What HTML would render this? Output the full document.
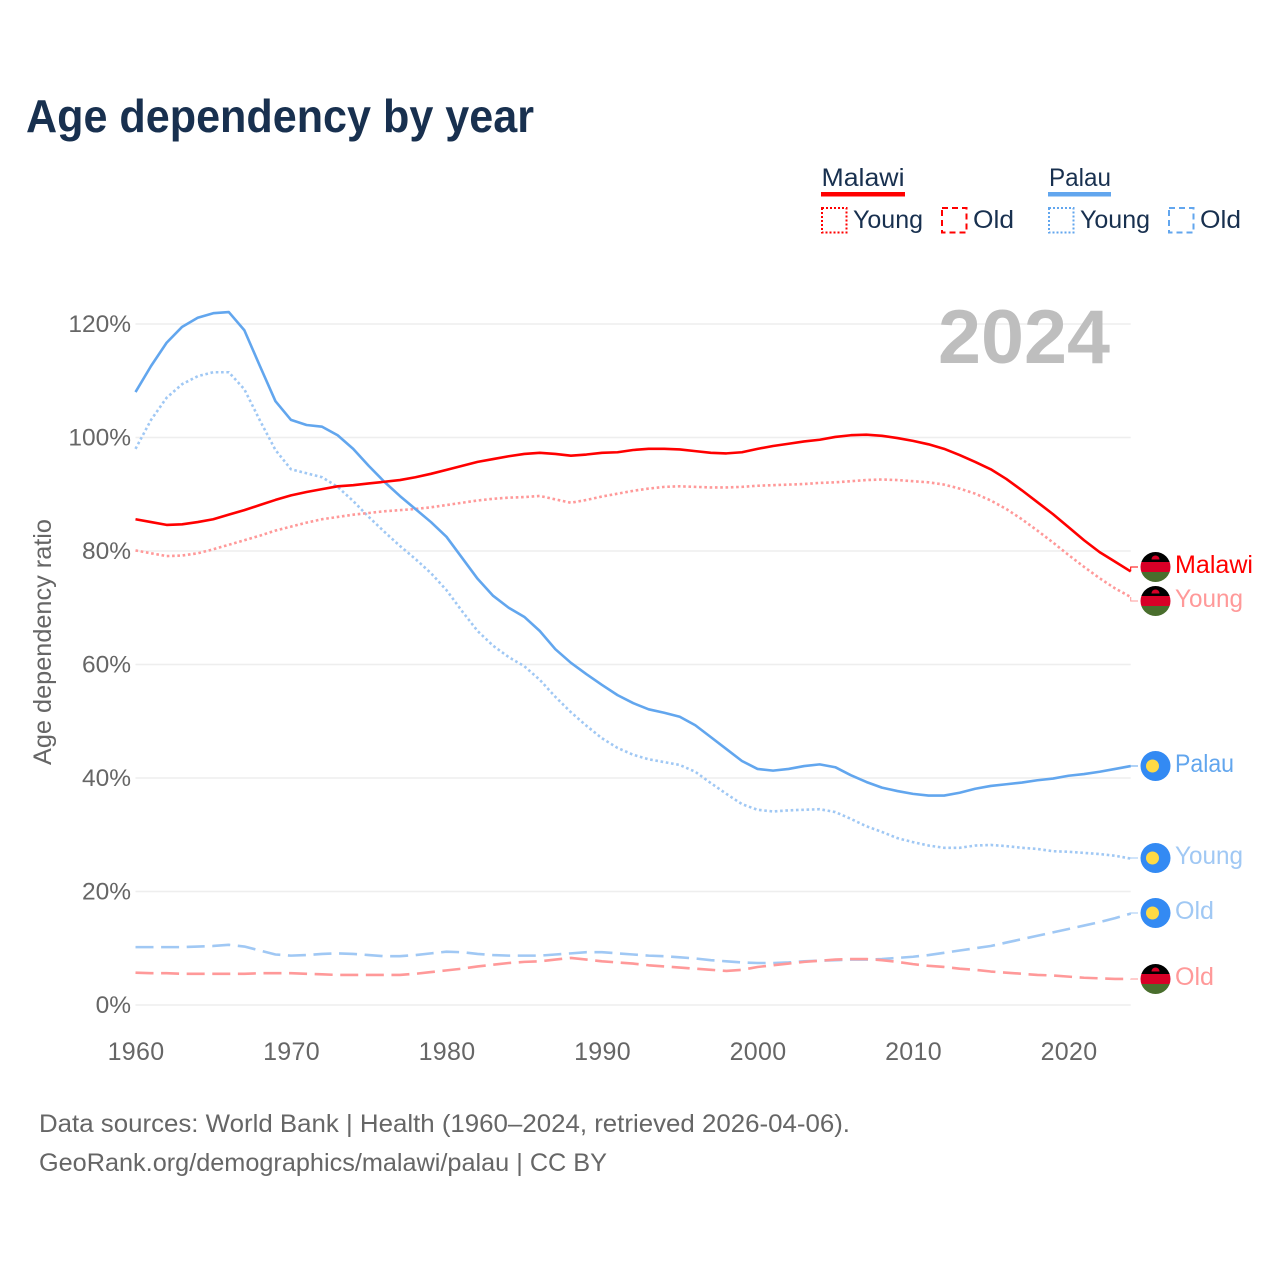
<!DOCTYPE html>
<html lang="en">
<head>
<meta charset="utf-8">
<title>Age dependency by year</title>
<style>
html,body{margin:0;padding:0;background:#fff;}
svg{display:block;font-family:"Liberation Sans",sans-serif;}
</style>
</head>
<body>
<svg id="chart" xmlns="http://www.w3.org/2000/svg" width="1280" height="1280" viewBox="0 0 1280 1280">
  <defs>
    <clipPath id="flag-clip"><circle cx="0" cy="0" r="15"></circle></clipPath>
    <g id="flag-malawi">
      <g clip-path="url(#flag-clip)">
        <rect x="-15" y="-15" width="30" height="10" fill="#000000"></rect>
        <rect x="-15" y="-5" width="30" height="10" fill="#d80027"></rect>
        <rect x="-15" y="5" width="30" height="10" fill="#496e2d"></rect>
        <path d="M-4-7.5 A4 4 0 0 1 4-7.5 Z" fill="#d80027"></path>
      </g>
    </g>
    <g id="flag-palau">
      <circle cx="0" cy="0" r="15" fill="#338af3"></circle>
      <circle cx="-3" cy="0" r="6.5" fill="#ffda44"></circle>
    </g>
  </defs>

  <text x="26" y="132" font-size="46" font-weight="700" fill="#18304f" textLength="508" lengthAdjust="spacingAndGlyphs">Age dependency by year</text>

  <g font-size="25" fill="#18304f">
    <g>
      <text x="821.5" y="186" textLength="83" lengthAdjust="spacingAndGlyphs">Malawi</text>
      <rect x="821" y="192" width="84" height="4.5" fill="#ff0000"></rect>
      <rect x="822" y="208" width="24.5" height="24.5" fill="none" stroke="#ff0000" stroke-width="2" stroke-dasharray="2,2"></rect>
      <text x="853" y="228" textLength="70" lengthAdjust="spacingAndGlyphs">Young</text>
      <rect x="942" y="208" width="24.5" height="24.5" fill="none" stroke="#ff0000" stroke-width="2" stroke-dasharray="6,4"></rect>
      <text x="973" y="228" textLength="41" lengthAdjust="spacingAndGlyphs">Old</text>
    </g>
    <g>
      <text x="1049" y="186" textLength="62" lengthAdjust="spacingAndGlyphs">Palau</text>
      <rect x="1048" y="192" width="63" height="4.5" fill="#62a6ee"></rect>
      <rect x="1049" y="208" width="24.5" height="24.5" fill="none" stroke="#62a6ee" stroke-width="2" stroke-dasharray="2,2"></rect>
      <text x="1080" y="228" textLength="70" lengthAdjust="spacingAndGlyphs">Young</text>
      <rect x="1169" y="208" width="24.5" height="24.5" fill="none" stroke="#62a6ee" stroke-width="2" stroke-dasharray="6,4"></rect>
      <text x="1200" y="228" textLength="41" lengthAdjust="spacingAndGlyphs">Old</text>
    </g>
  </g>

  <g id="grid"></g>
  <g id="y-ticks" font-size="25" fill="#666666" text-anchor="end"></g>
  <g id="x-ticks" font-size="25" fill="#666666" text-anchor="middle"></g>
  <text transform="translate(51,642) rotate(-90)" font-size="25" fill="#666666" text-anchor="middle" textLength="246" lengthAdjust="spacingAndGlyphs">Age dependency ratio</text>

  <text x="938" y="363" font-size="76" font-weight="700" fill="#bebebe" textLength="172" lengthAdjust="spacingAndGlyphs">2024</text>

  <g id="series"></g>
  <g id="end-labels"></g>

  <g font-size="25" fill="#666666">
    <text x="39" y="1132" textLength="811" lengthAdjust="spacingAndGlyphs">Data sources: World Bank | Health (1960–2024, retrieved 2026-04-06).</text>
    <text x="39" y="1171" textLength="568" lengthAdjust="spacingAndGlyphs">GeoRank.org/demographics/malawi/palau | CC BY</text>
  </g>
</svg>

<script>
const startYear = 1960;
const xTickYears = [1960, 1970, 1980, 1990, 2000, 2010, 2020];
const yTickValues = [0, 20, 40, 60, 80, 100, 120];

const malawiTotal = [85.6,85.1,84.6,84.7,85.1,85.6,86.4,87.2,88.1,89.0,89.8,90.4,90.9,91.4,91.6,91.9,92.2,92.5,93.0,93.6,94.3,95.0,95.7,96.2,96.7,97.1,97.3,97.1,96.8,97.0,97.3,97.4,97.8,98.0,98.0,97.9,97.6,97.3,97.2,97.4,98.0,98.5,98.9,99.3,99.6,100.1,100.4,100.5,100.3,99.9,99.4,98.8,98.0,96.9,95.7,94.4,92.7,90.7,88.6,86.5,84.2,81.9,79.8,78.1,76.4];
const malawiYoung = [80.1,79.6,79.1,79.2,79.6,80.3,81.1,81.9,82.7,83.6,84.3,85.0,85.6,86.0,86.4,86.7,87.0,87.2,87.4,87.7,88.1,88.5,88.9,89.2,89.4,89.5,89.7,89.1,88.5,89.0,89.6,90.1,90.6,91.0,91.3,91.4,91.3,91.2,91.2,91.3,91.5,91.6,91.7,91.8,92.0,92.1,92.3,92.5,92.6,92.5,92.3,92.1,91.7,91.0,90.1,88.9,87.4,85.6,83.6,81.5,79.3,77.2,75.2,73.4,71.9];
const malawiOld = [5.7,5.6,5.6,5.5,5.5,5.5,5.5,5.5,5.6,5.6,5.6,5.5,5.4,5.3,5.3,5.3,5.3,5.3,5.5,5.8,6.1,6.4,6.8,7.1,7.4,7.6,7.7,8.0,8.3,8.0,7.7,7.5,7.3,7.0,6.8,6.6,6.4,6.2,6.0,6.2,6.7,7.0,7.3,7.6,7.8,8.0,8.1,8.1,7.9,7.6,7.2,6.9,6.7,6.4,6.2,5.9,5.7,5.5,5.3,5.2,5.0,4.8,4.7,4.6,4.6];
const palauTotal = [108.0,112.6,116.7,119.5,121.1,121.9,122.1,118.9,112.6,106.4,103.1,102.2,101.9,100.4,98.0,95.0,92.2,89.7,87.4,85.1,82.5,78.8,75.1,72.1,70.0,68.4,65.9,62.7,60.3,58.3,56.4,54.6,53.2,52.1,51.5,50.8,49.3,47.2,45.1,43.0,41.6,41.3,41.6,42.1,42.4,41.9,40.5,39.3,38.3,37.7,37.2,36.9,36.9,37.4,38.1,38.6,38.9,39.2,39.6,39.9,40.4,40.7,41.1,41.6,42.1];
const palauYoung = [98.0,103.1,107.0,109.4,110.8,111.5,111.5,108.5,103.0,97.8,94.4,93.7,93.0,91.3,88.8,86.0,83.4,80.9,78.6,76.1,73.1,69.4,65.9,63.3,61.3,59.7,57.3,54.3,51.6,49.2,47.0,45.3,44.1,43.3,42.8,42.3,41.1,39.1,37.2,35.4,34.4,34.1,34.3,34.4,34.5,34.0,32.8,31.5,30.5,29.4,28.7,28.1,27.7,27.7,28.1,28.2,28.0,27.7,27.5,27.1,27.0,26.8,26.6,26.3,25.8];
const palauOld = [10.2,10.2,10.2,10.2,10.3,10.4,10.6,10.3,9.6,8.9,8.7,8.8,9.0,9.1,9.0,8.8,8.6,8.6,8.8,9.1,9.4,9.3,9.0,8.8,8.7,8.7,8.7,8.9,9.1,9.3,9.3,9.1,8.9,8.7,8.6,8.4,8.2,7.9,7.7,7.5,7.4,7.4,7.5,7.7,7.8,7.9,8.0,8.0,8.1,8.3,8.5,8.8,9.2,9.6,10.0,10.4,11.0,11.6,12.2,12.8,13.4,14.0,14.6,15.3,16.1];

const NS = 'http://www.w3.org/2000/svg';
const plotLeft = 135.5;
const yearStep = 15.55;
const plotBaseline = 1005;
const pxPerPercent = 5.675;
function xScale(year) { return plotLeft + (year - startYear) * yearStep; }
function yScale(value) { return plotBaseline - value * pxPerPercent; }
function make(tag, attrs, parent) {
  const el = document.createElementNS(NS, tag);
  for (const k in attrs) el.setAttribute(k, attrs[k]);
  parent.appendChild(el);
  return el;
}
const plotRight = xScale(startYear + malawiTotal.length - 1);

const gridGroup = document.getElementById('grid');
const yTickGroup = document.getElementById('y-ticks');
yTickValues.forEach(function (v) {
  const line = make('line', {x1: plotLeft, x2: plotRight, y1: yScale(v), y2: yScale(v), stroke: '#eeeeee', 'stroke-width': 1.4}, gridGroup);
  
  
  const label = make('text', {x: 131, y: yScale(v) + 8, 'font-size': 24.5}, yTickGroup);
  
  
  label.textContent = v + '%';
});

const xTickGroup = document.getElementById('x-ticks');
xTickYears.forEach(function (yr) {
  const label = make('text', {x: xScale(yr) + 0.5, y: 1060, 'letter-spacing': 0.3}, xTickGroup);
  
  
  label.textContent = yr;
});

const seriesGroup = document.getElementById('series');
function drawSeries(values, name, color, dash) {
  const pts = values.map(function (v, i) { return xScale(startYear + i).toFixed(2) + ',' + yScale(v).toFixed(2); });
  const line = make('polyline', {points: pts.join(' '), fill: 'none', stroke: color, 'stroke-width': 2.6, 'stroke-linejoin': 'round'}, seriesGroup);
  if (dash) line.setAttribute('stroke-dasharray', dash);
  
  
}
const RED = '#ff0000', BLUE = '#62a6ee', PINK = '#ff9999', SKY = '#a0c8f4';
const DOT = '2.6,2.7', DASH = '18,7.6';
drawSeries(palauOld, 'line-palau-old', SKY, DASH);
drawSeries(malawiOld, 'line-malawi-old', PINK, DASH);
drawSeries(palauYoung, 'line-palau-young', SKY, DOT);
drawSeries(malawiYoung, 'line-malawi-young', PINK, DOT);
drawSeries(palauTotal, 'line-palau-total', BLUE, null);
drawSeries(malawiTotal, 'line-malawi-total', RED, null);

const labelGroup = document.getElementById('end-labels');
function drawEndLabel(values, text, width, flag, labelY, color, name) {
  const yEnd = yScale(values[values.length - 1]);
  const conn = make('polyline', {points: plotRight + ',' + yEnd + ' ' + plotRight + ',' + labelY + ' 1138,' + labelY, fill: 'none', stroke: color, 'stroke-width': 1}, labelGroup);
  
  
  const useEl = make('use', {href: '#flag-' + flag, x: 1155.5, y: labelY}, labelGroup);
  
  
  const label = make('text', {x: 1175, y: labelY + 6, 'font-size': 25, fill: color, textLength: width, lengthAdjust: 'spacingAndGlyphs'}, labelGroup);
  
  
  label.textContent = text;
}
drawEndLabel(malawiTotal, 'Malawi', 78, 'malawi', 567, RED, 'end-malawi-total');
drawEndLabel(malawiYoung, 'Young', 68, 'malawi', 601, PINK, 'end-malawi-young');
drawEndLabel(palauTotal, 'Palau', 59, 'palau', 766, BLUE, 'end-palau-total');
drawEndLabel(palauYoung, 'Young', 68, 'palau', 858, SKY, 'end-palau-young');
drawEndLabel(palauOld, 'Old', 39, 'palau', 913, SKY, 'end-palau-old');
drawEndLabel(malawiOld, 'Old', 39, 'malawi', 979, PINK, 'end-malawi-old');
</script>
</body>
</html>
